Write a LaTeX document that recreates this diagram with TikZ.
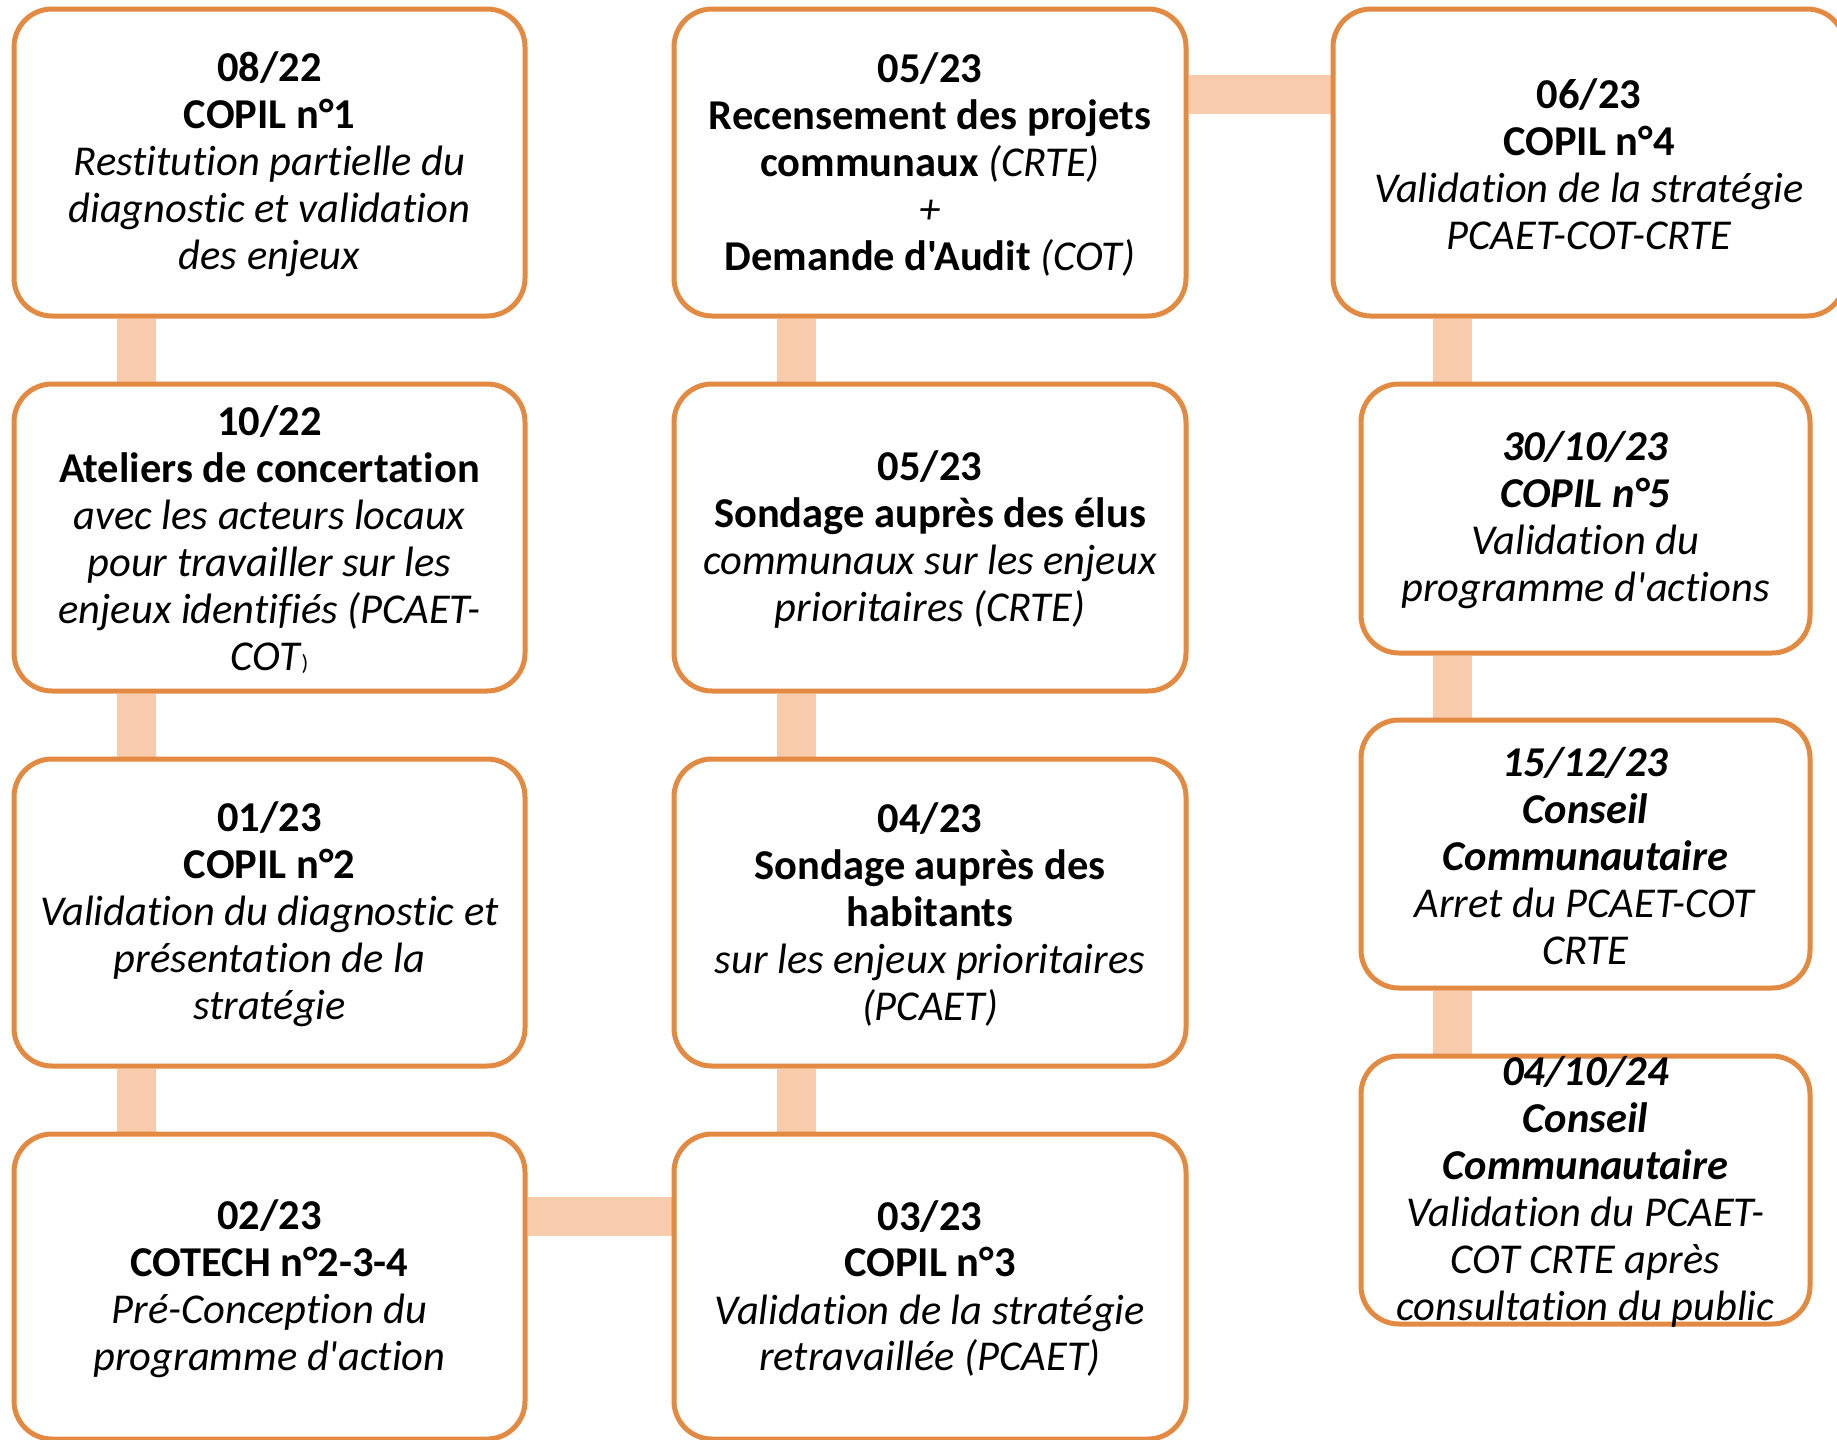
\documentclass[tikz,border=0pt]{standalone}
\usepackage{fontspec}
\setmainfont{Carlito}[Ligatures={TeXOff,NoCommon}]
\definecolor{boxline}{RGB}{226,137,66}
\definecolor{connfill}{RGB}{248,203,173}
\pgfdeclarelayer{bg}
\pgfsetlayers{bg,main}
\tikzset{
  box/.style={draw=boxline, line width=5pt, fill=white, rounded corners=38pt, inner sep=0pt, minimum width=512pt, minimum height=307pt},
  sbox/.style={box, minimum width=449pt, minimum height=268pt},
  txt/.style={align=center, inner sep=0pt, font=\fontsize{42.5}{47}\selectfont},
  conn/.style={draw=connfill, line width=39pt}
}
\begin{document}
\begin{tikzpicture}[x=1pt,y=-1pt]
\useasboundingbox (0,0) rectangle (1837,1440);
% boxes
\node[box, minimum width=511pt] (a1) at (269.5,162.5) {};
\node[box, minimum width=511pt] (a2) at (269.5,537.5) {};
\node[box, minimum width=511pt] (a3) at (269.5,912.5) {};
\node[box, minimum width=511pt, minimum height=305pt] (a4) at (269.5,1286.5) {};
\node[box] (b1) at (930,162.5) {};
\node[box] (b2) at (930,537.5) {};
\node[box] (b3) at (930,912.5) {};
\node[box, minimum height=305pt] (b4) at (930,1286.5) {};
\node[box] (c1) at (1589,162.5) {};
\node[sbox, minimum height=269pt] (c2) at (1585.5,518.5) {};
\node[sbox] (c3) at (1585.5,854) {};
\node[sbox] (c4) at (1585.5,1190) {};
% connectors (behind boxes)
\begin{pgfonlayer}{bg}
\fill[white] (0,0) rectangle (1837,1440);
\draw[conn] ([xshift=-133pt]a1.south) -- ([xshift=-133pt]a2.north);
\draw[conn] ([xshift=-133pt]a2.south) -- ([xshift=-133pt]a3.north);
\draw[conn] ([xshift=-133pt]a3.south) -- ([xshift=-133pt]a4.north);
\draw[conn] ([yshift=70pt]a4.east) -- ([yshift=70pt]b4.west);
\draw[conn] ([xshift=-134pt]b4.north) -- ([xshift=-134pt]b3.south);
\draw[conn] ([xshift=-134pt]b3.north) -- ([xshift=-134pt]b2.south);
\draw[conn] ([xshift=-134pt]b2.north) -- ([xshift=-134pt]b1.south);
\draw[conn] ([yshift=68pt]b1.east) -- ([yshift=68pt]c1.west);
\draw[conn] ([xshift=-133.5pt]c2.north) -- ([xshift=-133.5pt]c2.north |- c1.south);
\draw[conn] ([xshift=-133.5pt]c2.south) -- ([xshift=-133.5pt]c3.north);
\draw[conn] ([xshift=-133.5pt]c3.south) -- ([xshift=-133.5pt]c4.north);
\end{pgfonlayer}
% texts
\node[txt] (ta1) at ([yshift=-2pt]a1) {\textbf{08/22}\\\textbf{COPIL n°1}\\\textit{Restitution partielle du}\\\textit{diagnostic et validation}\\\textit{des enjeux}};
\node[txt] (ta2) at ([yshift=-2pt]a2) {\textbf{10/22}\\\textbf{Ateliers de concertation}\\\textit{avec les acteurs locaux}\\\textit{pour travailler sur les}\\\textit{enjeux identifiés (PCAET-}\\\textit{COT}{\fontsize{22}{22}\selectfont )}};
\node[txt] (ta3) at ([yshift=-2pt]a3) {\textbf{01/23}\\\textbf{COPIL n°2}\\\textit{Validation du diagnostic et}\\\textit{présentation de la}\\\textit{stratégie}};
\node[txt] (ta4) at ([yshift=-2pt]a4) {\textbf{02/23}\\\textbf{COTECH n°2-3-4}\\\textit{Pré-Conception du}\\\textit{programme d'action}};
\node[txt] (tb1) at ([yshift=-2pt]b1) {\textbf{05/23}\\\textbf{Recensement des projets}\\\textbf{communaux} \textit{(CRTE)}\\\textit{+}\\\textbf{Demande d'Audit} \textit{(COT)}};
\node[txt] (tb2) at ([yshift=-2pt]b2) {\textbf{05/23}\\\textbf{Sondage auprès des élus}\\\textit{communaux sur les enjeux}\\\textit{prioritaires (CRTE)}};
\node[txt] (tb3) at ([yshift=-2pt]b3) {\textbf{04/23}\\\textbf{Sondage auprès des}\\\textbf{habitants}\\\textit{sur les enjeux prioritaires}\\\textit{(PCAET)}};
\node[txt] (tb4) at ([yshift=-2pt]b4) {\textbf{03/23}\\\textbf{COPIL n°3}\\\textit{Validation de la stratégie}\\\textit{retravaillée (PCAET)}};
\node[txt] (tc1) at ([yshift=-2pt]c1) {\textbf{06/23}\\\textbf{COPIL n°4}\\\textit{Validation de la stratégie}\\\textit{PCAET-COT-CRTE}};
\node[txt] (tc2) at ([yshift=-2pt]c2) {\textbf{\textit{30/10/23}}\\\textbf{\textit{COPIL n°5}}\\\textit{Validation du}\\\textit{programme d'actions}};
\node[txt] (tc3) at ([yshift=-2pt]c3) {\textbf{\textit{15/12/23}}\\\textbf{\textit{Conseil}}\\\textbf{\textit{Communautaire}}\\\textit{Arret du PCAET-COT}\\\textit{CRTE}};
\node[txt] (tc4) at ([yshift=-2pt]c4) {\textbf{\textit{04/10/24}}\\\textbf{\textit{Conseil}}\\\textbf{\textit{Communautaire}}\\\textit{Validation du PCAET-}\\\textit{COT CRTE après}\\\textit{consultation du public}};
\end{tikzpicture}
\end{document}
